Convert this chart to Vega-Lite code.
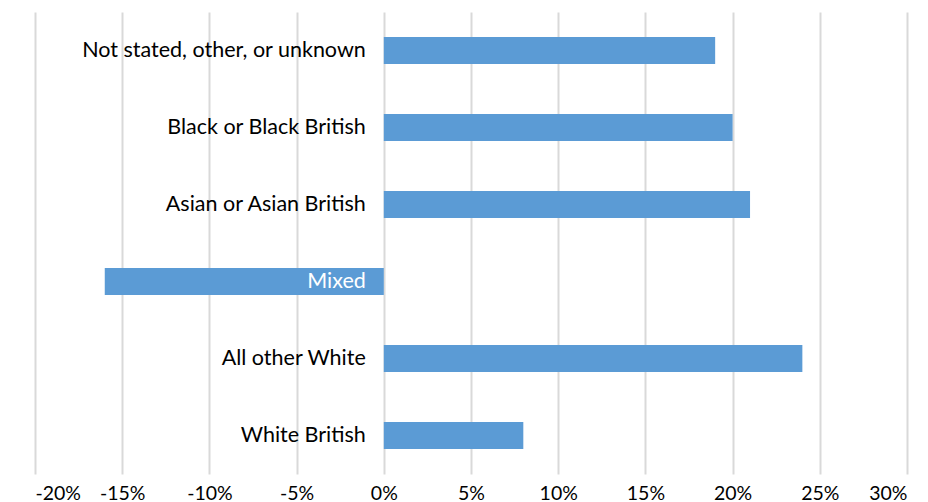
{
  "$schema": "https://vega.github.io/schema/vega-lite/v6.json",
  "autosize": "none",
  "width": 872,
  "height": 462,
  "padding": {"left": 35, "top": 12, "right": 21, "bottom": 28},
  "background": "white",
  "config": {"view": {"stroke": null}, "font": "Lato"},
  "data": {
    "values": [
      {"category": "Not stated, other, or unknown", "value": 0.19, "labelColor": "black"},
      {"category": "Black or Black British", "value": 0.20, "labelColor": "black"},
      {"category": "Asian or Asian British", "value": 0.21, "labelColor": "black"},
      {"category": "Mixed", "value": -0.16, "labelColor": "white"},
      {"category": "All other White", "value": 0.24, "labelColor": "black"},
      {"category": "White British", "value": 0.08, "labelColor": "black"}
    ]
  },
  "encoding": {
    "y": {
      "field": "category",
      "type": "nominal",
      "sort": null,
      "scale": {"paddingInner": 0.65, "paddingOuter": 0.325},
      "axis": null
    }
  },
  "layer": [
    {
      "mark": {"type": "bar", "color": "#5B9BD5"},
      "encoding": {
        "x": {
          "field": "value",
          "type": "quantitative",
          "scale": {"domain": [-0.2, 0.3], "nice": false, "zero": false},
          "axis": {
            "format": ".0%",
            "labelExpr": "replace(datum.label, '\u2212', '-')",
            "values": [-0.2, -0.15, -0.1, -0.05, 0, 0.05, 0.1, 0.15, 0.2, 0.25, 0.3],
            "domain": false,
            "ticks": false,
            "grid": true,
            "gridColor": "#d9d9d9",
            "gridWidth": 2,
            "labelFontSize": 19.5,
            "labelColor": "#000000",
            "labelPadding": 10,
            "labelFont": "Lato",
            "title": null
          }
        }
      }
    },
    {
      "mark": {"type": "text", "align": "right", "baseline": "middle", "dx": -18, "fontSize": 21.5, "font": "Lato"},
      "encoding": {
        "x": {"datum": 0},
        "text": {"field": "category"},
        "color": {"field": "labelColor", "type": "nominal", "scale": null}
      }
    }
  ]
}
